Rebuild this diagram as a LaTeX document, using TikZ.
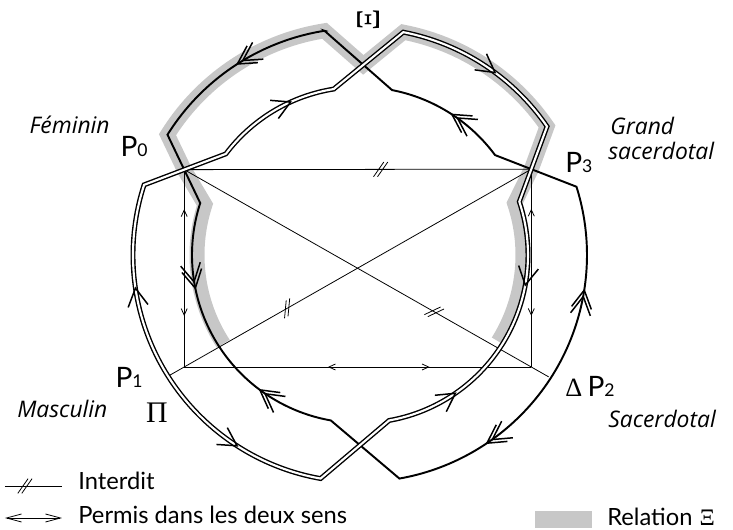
\documentclass[tikz,border=0pt]{standalone}
\usepackage{fontspec}
\setmainfont{Lato}
\newfontfamily\etiquette{Open Sans}
\newfontfamily\grec{Liberation Serif}
\usetikzlibrary{calc}
\usetikzlibrary{arrows.meta}

\newcommand\Pnum[1]{P{\fontsize{10}{10}\selectfont #1}}
\def\Ro{4.54}
\def\Ri{3.36}
\def\Rg{3.26}

\tikzset{
  mince/.style={line width=0.45pt},
  simple/.style={line width=1.1pt, line join=miter},
  trait double/.style={line width=0.8pt, double=white, double distance=1.2pt},
  relation/.style={line width=0.3cm, draw=black!22},
  nom/.style={font=\etiquette\itshape\fontsize{13}{15}\selectfont, inner sep=0pt},
  ptlabel/.style={font=\fontsize{16}{16}\selectfont, inner sep=0pt},
  legende/.style={font=\fontsize{13.5}{15}\selectfont, inner sep=0pt},
  surchemin/.style={sloped, allow upside down},
  fl/.pic={\draw[line width=0.85pt] (-0.36,0.2) -- (0,0) -- (-0.36,-0.2);},
  ffl/.pic={\draw[line width=0.85pt] (-0.36,0.2) -- (0,0) -- (-0.36,-0.2)
                                     (-0.49,0.2) -- (-0.13,0) -- (-0.49,-0.2);},
  avant/.pic={\draw[mince] (-0.13,0.06) -- (0,0) -- (-0.13,-0.06);},
  arriere/.pic={\draw[mince] (0.13,0.06) -- (0,0) -- (0.13,-0.06);},
  barre/.pic={\draw[mince] (-0.143,-0.147) -- (0.063,0.147) (-0.063,-0.147) -- (0.143,0.147);},
}

\begin{document}
\begin{tikzpicture}
  \useasboundingbox (-7.2,-5.5) rectangle (7.46,5.1);

  %--- points des deux boucles
  \coordinate (so0) at (148:\Ro);  \coordinate (si0) at (162:\Ri);
  \coordinate (do0) at (162:\Ro);  \coordinate (di0) at (143:\Ri);
  \coordinate (si3) at (36.5:\Ri); \coordinate (so3) at (17.5:\Ro);
  \coordinate (do3) at (34.5:\Ro); \coordinate (di3) at (18.5:\Ri);
  \coordinate (t1o) at (99:\Ro);   \coordinate (t1i) at (99:\Ri);
  \coordinate (t2o) at (79:\Ro);   \coordinate (t2i) at (79:\Ri);
  \coordinate (b2o) at (-100:\Ro); \coordinate (b2i) at (-100:\Ri);
  \coordinate (P0) at (intersection of si0--so0 and do0--di0);
  \coordinate (P3) at (intersection of si3--so3 and do3--di3);
  \coordinate (X) at (intersection of t1o--t2i and t1i--t2o);
  \coordinate (P1) at (P0 |- 0,-2.24);
  \coordinate (P2) at (P3 |- 0,-2.24);
  \coordinate (Q1) at ($(P3)!1.05!(P1)$);
  \coordinate (Q2) at ($(P0)!1.05!(P2)$);

  %--- relation Xi
  \draw[relation] (213:\Rg) arc[start angle=213, end angle=162, radius=\Rg]
    -- (P0) -- (so0) arc[start angle=148, end angle=99, radius=\Ro]
    -- (X) -- (t2o) arc[start angle=79, end angle=34.5, radius=\Ro]
    -- (P3) -- (18.5:\Rg) arc[start angle=18.5, end angle=-32, radius=\Rg];

  %--- rectangle et diagonales
  \draw[mince] (P0) -- pic[surchemin, pos=.566]{barre} (P3);
  \draw[mince] (P1) -- pic[surchemin, pos=.263]{arriere} pic[surchemin, pos=.795]{avant} (P0);
  \draw[mince] (P2) -- pic[surchemin, pos=.263]{arriere} pic[surchemin, pos=.795]{avant} (P3);
  \draw[mince] (P1) -- pic[surchemin, pos=.417]{arriere} pic[surchemin, pos=.704]{avant} (P2);
  \draw[mince] (Q1) -- pic[surchemin, pos=.33]{barre} (P3);
  \draw[mince] (P0) -- pic[surchemin, pos=.686]{barre} (Q2);

  %--- boucle simple
  \draw[simple] (t1o) -- (t2i) arc[start angle=79, end angle=36.5, radius=\Ri]
    -- (P3) -- (so3) arc[start angle=17.5, end angle=-80, radius=\Ro]
    -- (b2i) arc[start angle=-100, end angle=-198, radius=\Ri]
    -- (P0) -- (so0) arc[start angle=148, end angle=99, radius=\Ro] -- cycle;

  %--- boucle double
  \draw[trait double] (t1i) -- (t2o) arc[start angle=79, end angle=34.5, radius=\Ro]
    -- (P3) -- (di3) arc[start angle=18.5, end angle=-80, radius=\Ri]
    -- (b2o) arc[start angle=-100, end angle=-198, radius=\Ro]
    -- (P0) -- (di0) arc[start angle=143, end angle=99, radius=\Ri] -- cycle;

  %--- fleches
  \foreach \a/\r/\rot in {114.4/\Ri/24.4, 53.5/\Ro/-36.5, -10.3/\Ri/-100.3,
                          -55.4/\Ri/34.6, 237.2/\Ro/327.2, 188.4/\Ro/98.4}
    \pic[rotate=\rot] at (\a:\r) {fl};
  \foreach \a/\r/\rot in {122.7/\Ro/212.7, 56.8/\Ri/146.8, -8.9/\Ro/81.1,
                          -56/\Ro/-146, 233.4/\Ri/143.4, 191.4/\Ri/281.4}
    \pic[rotate=\rot] at (\a:\r) {ffl};

  %--- etiquettes
  \node[rotate=90, font=\grec\fontsize{19}{19}\selectfont, inner sep=0pt] (xi) at (0.18,4.70) {Ξ};
  \node[nom, anchor=base east] (fem) at (-5.0,2.42) {Féminin};
  \node[ptlabel, anchor=base east] (n0) at (-4.24,1.96) {\Pnum{0}};
  \node[ptlabel, anchor=base west] (n3) at (4.10,1.64) {\Pnum{3}};
  \node[nom, anchor=base west] (gd) at (5.0,2.4) {Grand};
  \node[nom, anchor=base west] (sc) at (4.96,1.9) {sacerdotal};
  \node[ptlabel, anchor=base east] (n1) at (-4.34,-2.66) {\Pnum{1}};
  \node[ptlabel, anchor=base west] (n2) at (4.10,-2.84)
    {{\grec\fontsize{15}{15}\selectfont Δ}\hspace{3pt}\Pnum{2}};
  \node[font=\grec\fontsize{17}{17}\selectfont, inner sep=0pt] (pi) at (-4.06,-3.16) {Π};
  \node[nom, anchor=base west] (masc) at (-6.86,-3.26) {Masculin};
  \node[nom, anchor=base west] (sac) at (4.96,-3.46) {Sacerdotal};

  %--- legende
  \coordinate (l1a) at (-7.1,-4.62); \coordinate (l1b) at (-5.96,-4.62);
  \draw[mince] (l1a) -- pic[pos=.35]{barre} (l1b);
  \node[legende, anchor=base west] (interdit) at (-5.64,-4.70) {Interdit};
  \coordinate (l2a) at (-7.1,-5.26); \coordinate (l2b) at (-5.96,-5.26);
  \draw[mince, <->, >={Straight Barb[length=3mm,width=1.6mm]}] (l2a) -- (l2b);
  \node[legende, anchor=base west] (permis) at (-5.64,-5.38) {Permis dans les deux sens};
  \node[fill=black!22, minimum width=1.14cm, minimum height=0.34cm, inner sep=0pt] (cle) at (4.07,-5.29) {};
  \node[legende, anchor=base west] (rel) at (4.94,-5.42) {Relation\hspace{4pt}{\grec Ξ}};
\end{tikzpicture}
\end{document}
